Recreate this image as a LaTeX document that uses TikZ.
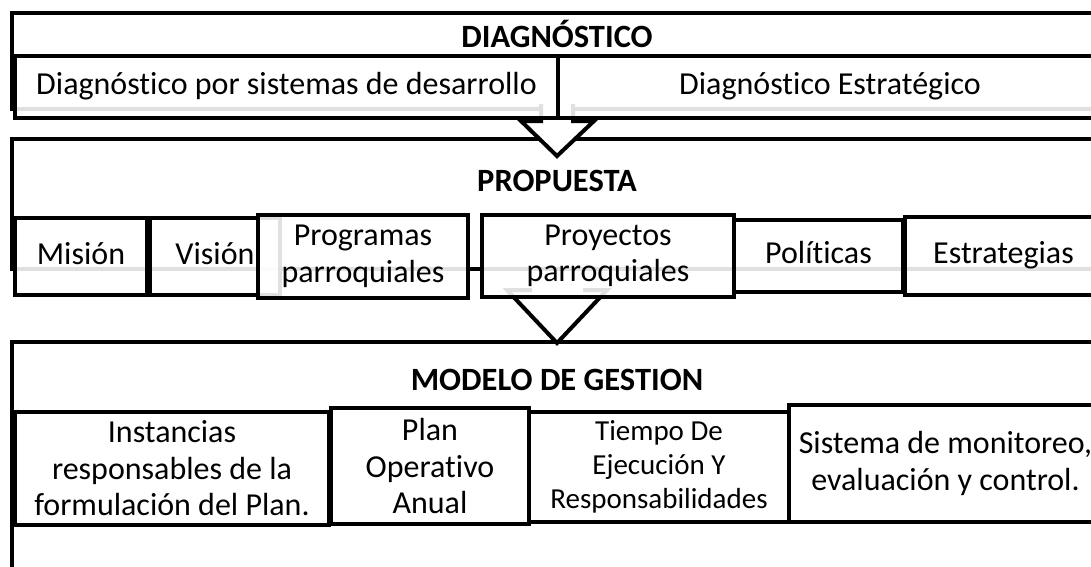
\documentclass[tikz,border=0pt]{standalone}
\usepackage{fontspec}
\setmainfont[Ligatures={NoCommon}]{Carlito}
\begin{document}
\begin{tikzpicture}[x=1pt,y=-1pt,
  frame/.style={draw, line width=4pt, fill=white},
  box/.style={draw, line width=4pt, fill=white, inner sep=0pt, anchor=north west,
    align=center, font=\fontsize{32}{36.5}\selectfont},
  glass/.style={fill opacity=0.88, text opacity=1, draw opacity=1},
  onebox/.style={box, glass, text height=22.5pt, text depth=7pt},
  twobox/.style={box, glass},
  smallbox/.style={box, font=\fontsize{29}{34}\selectfont},
  title/.style={font=\fontsize{32.5}{37}\selectfont\bfseries, inner sep=0pt},
  blockarrow/.style={draw, line width=4pt, line join=miter}]
\useasboundingbox (0,0) rectangle (1091,566);
\clip (0,0) rectangle (1091,566);
% ---------- MODELO DE GESTION ----------
\draw[frame] (12,342) rectangle (1110,600);
\node[title] (t3) at (557,380) {MODELO DE GESTION};
\node[box, minimum width=314pt, minimum height=113pt] (inst) at (13,410) {Instancias\\responsables de la\\formulación del Plan.};
\node[box, minimum width=198pt, minimum height=116pt] (poa) at (329,406) {Plan\\Operativo\\Anual};
\node[smallbox, minimum width=260pt, minimum height=110pt] (tie) at (527,410) {Tiempo De\\Ejecución Y\\Responsabilidades};
\node[box, minimum width=313pt, minimum height=117pt] (sis) at (787,403) {Sistema de monitoreo,\\evaluación y control.};
% ---------- PROPUESTA ----------
\fill[white] (532,280) -- (532,290) -- (507,290) -- (557,343) -- (607,290) -- (583,290) -- (583,280) -- cycle;
\draw[blockarrow] (532,290) -- (507,290) -- (557,343) -- (607,290) -- (583,290);
\draw[frame] (12,139) rectangle (1110,269);
\node[title] (t2) at (557,181) {PROPUESTA};
\node[onebox, minimum width=132pt, minimum height=77pt] (mis) at (13,216) {Misión};
\node[onebox, minimum width=130pt, minimum height=77pt] (vis) at (148,216) {Visión};
\node[twobox, minimum width=210pt, minimum height=83pt] (prog) at (256,213) {Programas\\parroquiales};
\node[twobox, minimum width=252pt, minimum height=82pt] (proy) at (480,213) {Proyectos\\parroquiales};
\node[onebox, minimum width=169pt, minimum height=72pt] (pol) at (732,218) {Políticas};
\node[onebox, minimum width=197pt, minimum height=78pt] (est) at (903,215) {Estrategias};
% ---------- DIAGNOSTICO ----------
\draw[frame] (12,13) rectangle (1110,109);
\fill[white] (541,104) -- (541,121) -- (521,121) -- (557,156) -- (594,121) -- (573,121) -- (573,104) -- cycle;
\draw[blockarrow] (541,104) -- (541,121) -- (521,121) -- (557,156) -- (594,121) -- (573,121) -- (573,104);
\node[title] (t1) at (557,34) {DIAGNÓSTICO};
\node[onebox, minimum width=543pt, minimum height=62pt] (d1) at (13,54) {Diagnóstico por sistemas de desarrollo};
\node[onebox, minimum width=544pt, minimum height=62pt] (d2) at (556,54) {Diagnóstico Estratégico};
\end{tikzpicture}
\end{document}
